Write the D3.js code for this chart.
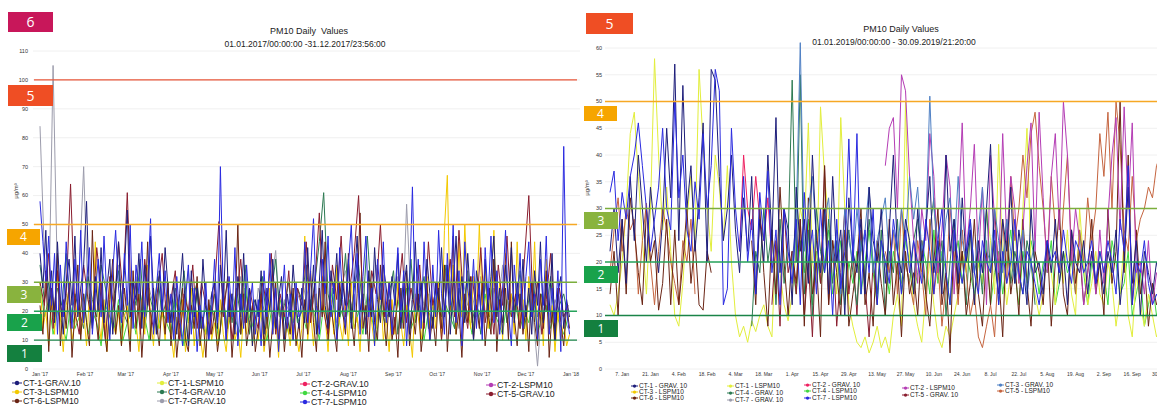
<!DOCTYPE html>
<html>
<head>
<meta charset="utf-8">
<script src="https://cdn.jsdelivr.net/npm/d3@7"></script>
<style>
body { margin: 0; background: #fff; }
svg { display: block; font-family: "Liberation Sans", Arial, sans-serif; }
</style>
</head>
<body>
<svg id="chart" width="1157" height="407"></svg>
<script>
// PM10 daily values, two stations groups, 2017 and 2019
const gap = n => Array(n).fill(null);

// ---- 2017 panel (values every 2 days from 1 Jan 2017) ----
const l_7L = [
  58,44,30,46,22,40,12,36,18,44,26,14,38,20,48,16,
  30,42,12,26,38,18,46,24,10,34,48,28,16,40,
  22,50,14,36,26,44,18,30,52,12,28,40,20,34,16,
  26,10,32,18,8,24,36,12,28,6,22,14,30,10,20,
  38,16,70,24,10,32,18,42,8,26,14,36,20,30,12,
  24,8,34,18,40,12,28,6,22,36,14,26,10,30,18,
  20,44,16,34,52,22,12,38,26,46,18,30,10,42,24,
  14,36,50,20,40,12,32,46,18,28,8,38,24,44,16,
  30,12,26,42,18,34,8,28,63,20,38,14,44,22,10,
  36,18,48,26,12,40,22,50,16,34,8,44,28,20,38,14,
  30,10,42,24,46,16,34,12,28,48,20,8,36,22,40,
  14,32,44,18,26,10,38,22,46,12,28,16,34,6,77,20,12
];
const l_1G = [
  40,28,48,20,34,16,44,24,12,30,38,22,46,18,28,36,
  58,24,14,32,20,42,16,28,38,12,26,44,20,34,
  55,18,30,24,40,14,36,22,46,26,12,34,20,42,28,
  16,30,12,26,40,20,8,34,18,28,14,38,22,10,26,
  30,14,36,22,48,18,26,12,32,20,40,16,28,8,24,
  18,34,12,28,20,38,14,24,32,10,26,18,36,22,14,
  28,16,42,20,36,12,30,48,22,14,34,26,40,18,30,
  22,38,14,30,46,20,26,12,34,18,42,24,16,36,28,
  18,32,22,40,14,28,36,12,24,44,20,30,16,38,26,
  14,30,24,42,18,36,12,28,46,20,32,16,40,24,10,34,
  26,14,38,20,32,46,18,28,12,36,24,42,16,30,20,
  38,18,28,12,34,22,44,16,30,20,40,10,26,32,14,24,18
];
const l_6L = [
  22,12,34,6,28,18,40,8,24,14,30,4,20,36,10,26,
  16,8,48,20,10,30,14,6,24,38,12,22,8,28,
  18,6,34,14,26,4,20,44,10,28,16,8,24,12,30,
  8,20,4,16,28,10,6,22,14,32,8,18,4,24,12,
  20,6,14,30,10,24,4,18,50,12,26,8,16,22,6,
  14,26,8,20,4,16,30,10,22,6,18,12,28,8,16,
  4,24,12,34,16,6,28,18,44,10,22,14,6,30,20,
  12,40,18,8,26,54,14,22,6,30,16,10,36,20,8,
  24,10,18,4,28,14,34,8,20,12,26,6,16,30,10,
  18,8,28,14,36,6,22,46,12,20,4,26,16,32,10,22,
  14,30,8,20,12,38,6,24,16,28,10,44,18,8,26,
  12,22,6,30,16,8,26,14,34,4,20,10,28,16,8,22,14
];
const l_3L = [
  30,14,20,8,26,12,34,18,6,22,28,10,16,24,12,20,
  8,26,14,44,18,10,24,6,30,16,12,20,8,18,
  22,10,30,16,6,24,12,36,18,8,26,14,20,10,28,
  12,4,18,10,24,6,16,28,8,20,12,4,14,22,10,
  16,8,24,12,6,18,26,10,14,4,20,12,28,8,16,
  10,22,6,14,28,12,18,4,24,10,16,8,20,12,6,
  14,46,10,20,8,26,14,32,18,6,24,12,36,16,10,
  22,8,30,14,18,6,26,12,34,16,8,20,28,10,18,
  6,24,12,30,16,8,22,14,4,26,18,10,20,32,12,
  24,14,30,10,48,67,20,36,12,44,18,50,26,14,32,20,
  50,22,36,14,28,48,18,30,10,40,20,26,12,44,16,
  24,10,32,18,44,12,26,8,38,14,22,6,20,10,16,8,12
];
// gravimetric / partial series, every 3 days
const l_5G = [
  30,22,40,14,34,18,26,64,20,12, 36,24,16,42,28,10,32,20,44,26,
  61,18,30,12,38,22,14,28,40,16, 24,34,10,26,20,36,14,30,22,12,
  28,51,18,32,10,24,38,16,28,20, 14,30,22,40,12,26,18,34,10,28,
  22,44,16,30,54,20,12,36,24,46, 18,28,40,60,22,14,34,26,50,18,
  30,12,24,40,16,28,20,36,14,44, 22,30,10,26,38,18,48,24,14,32,
  20,42,16,28,12,36,22,46,18,26, 14,38,60,20,30,12,24,40,16,28,
  18,22
];
const l_4G = [
  36,24,30,18,28,22,40,16,26,20, 14,32,24,18,36,28,12,26,34,20,
  16,30,22,38,14,26,20,32,18,24, 12,28,20,34,16,24,30,14,22,18,
  26,10,22,30,16,28,18,36,12,24, 20,32,14,26,38,18,22,30,16,28,
  24,36,20,30,44,61,26,18,34,22, 40,16,28,36,20,46,24,14,30,18,
  26,34,12,28,20,38,16,24,32,14, 22,30,18,36,26,14,28,20,34,16,
  24,12,30,18,38,22,28,16,26,20, 34,14,24,30,18,26,20,32,14,22,
  26,18
];
const l_7G = [
  84,40,20,105,30,18,26,14,22,34, 70,24,16,30,20,12,28,22,36,18,
  26,14,32,20,16,28,22,12,30,24, 18,26,14,22,34,16,28,20,12,24,
  30,18,22,14,26,20,32,16,24,12, 28,22,18,30,41,16,24,20,14,26,
  22,30,18,26,14,32,20,24,16,28, 34,20,26,14,30,18,24,36,22,16,
  28,20,32,14,57,24,18,30,22,26, 16,28,20,34,18,24,14,30,22,26,
  18,32,20,14,28,22,36,16,24,20, 30,14,26,18,1,22,28,16,24,20,
  18,14
];
const l_4L = [
  30,18,24,12,20,16,10,22,14,18, 26,12,20,16,8,22,18,14,24,10,
  16,20,12,26,18,10,22,14,20,16, 12,24,18,8,20,14,26,16,12,22,
  18,10,24,14,20,16,12,28,18,14, 22,16,10,20,14,24,18,12,26,16,
  20,14,24,18,10,22,16,28,12,20, 16,24,14,20,12,26,18,10,22,16,
  20,12,24,16,28,14,18,22,10,20, 16,26,12,22,18,14,24,16,20,12,
  22,18,26,14,20,16,12,24,18,22, 14,20,16,26,12,18,22,14,20,16,
  12,18
];

// ---- 2019 panel (values every 2 days from 1 Jan 2019) ----
const r_7L = [
  33,37,24,33,28,36,40,46,38,30,22,28,34,45,30,26,
  50,32,40,26,22,35,28,44,30,38,56,52,12,15,
  45,30,22,36,20,28,14,33,24,37,18,26,12,30,22,
  16,28,12,33,20,26,14,30,18,24,10,28,15,22,43,
  20,44,14,26,18,30,12,24,20,16,28,22,14,26,18,24,
  20,16,28,22,14,24,30,18,12,26,20,16,22,28,18,
  14,24,20,18,26,12,22,16,20,28,18,14,22,20,16,
  12,18,24,20,22,18,26,20,16,24,22,18,20,24,16,22,
  18,24,20,14,28,22,38,12,20,18,24,16,12,14,12
];
const r_1G = [
  22,30,18,28,16,36,24,40,30,20,34,26,18,28,45,32,
  57,24,53,30,38,22,32,46,20,56,54,36,24,30,
  40,26,18,32,22,36,14,28,20,40,24,47,18,30,26,
  12,34,22,28,16,40,24,18,30,14,36,20,26,10,32,
  22,18,28,14,34,24,20,30,16,26,40,22,18,28,24,14,
  30,20,26,36,18,24,14,40,22,28,16,32,20,26,12,
  24,18,30,42,20,14,28,22,34,16,26,20,12,30,18,
  20,14,24,18,28,16,22,12,26,20,18,24,14,22,16,20,
  14,22,18,26,12,20,34,16,24,10,22,18,14,20,16
];
const r_1L = [
  12,10,14,20,30,44,48,36,24,14,30,58,40,26,34,22,
  10,8,16,28,36,24,56,42,30,22,40,34,24,38,
  20,10,6,8,5,9,7,10,12,8,6,24,18,12,9,
  14,22,30,26,46,20,16,49,36,28,22,14,47,30,12,
  8,5,4,6,3,5,8,4,6,3,10,14,8,50,20,12,
  8,5,14,20,12,6,4,8,6,10,14,22,18,26,12,
  20,16,30,24,14,42,20,12,18,26,16,30,45,20,14,
  10,14,24,18,12,20,16,26,14,10,30,20,12,16,22,14,
  12,20,16,8,14,24,10,6,18,12,8,14,10,6,8
];
const r_6L = [
  14,22,10,28,14,32,26,18,12,30,20,24,11,16,28,12,
  26,12,20,30,16,24,12,11,22,18, ...gap(4),
  ...gap(5), 24,12,30,18,8,26,14,34,20,10,
  22,16,28,8,32,14,20,6,38,12,24,18,10,26,8,
  14,20,30,12,18,8,24,16,10,28,12,20,6,22,14,18,
  10,24,14,8,20,30,12,18,3,26,14,22,10,16,28,
  14,8,22,12,30,18,6,26,14,20,10,28,16,8,22,
  18,12,24,8,20,30,14,10,26,16,22,12,18,28,14,20,
  10,30,16,22,50,18,40,12,26,14,20,8,16,12,14
];
const r_5L = [
  18,26,32,22,30,26,28,14,24,31,20,12,22,30,26,20,
  16,12,24,20,28,14, ...gap(8),
  ...gap(15),
  ...gap(15),
  ...gap(8), 22,18,26,14,30,20,16,12,
  24,18,10,28,14,20,8,16,30,22,12,26,18,10,14,
  6,4,8,12,6,20,28,16,36,24,30,40,32,44,48,
  38,30,20,36,26,18,30,40,22,14,26,20,32,24,30,44,
  36,48,30,50,42,26,22,36,24,28,30,34,32,38,40
];
const r_2L = [
  ...gap(60),
  ...gap(8), 38,45,47,30,55,52,36,24,
  16,30,24,44,36,18,26,40,34,14,28,46,22,30,42,
  20,34,12,40,28,18,44,24,36,30,16,26,38,46,22,
  48,32,18,36,44,26,50,40,20,30,24,12,18,22,14,26,
  16,28,40,47,26,49,30,46,18,20,14,24,12,18,16
];
const r_3G = [
  ...gap(45),
  20,28,61,22,30,36,24,18,28,32,20,26,14,30,24,
  20,30,22,26,34,18,24,28,32,20,26,22,30,24,36,28,
  34,22,26,51,30,24,20,28,32,22,36,24,20,28,18,
  26,34,22,20,30,24,18,28,22,16,20,26,14,20,24
];
const r_4G = [
  ...gap(35), 8,22,18,30,20,26,12,28,16,24,
  54,20,55,14,26,10,30,22,18,28,16,24,12,20,26,
  18,12,24,16,28,20,14,26,10,22,18,28,14,20,16,24,
  28,20,14,26,32,18,24,10,20,28,16,22,12,26,18,
  22,14,30,18,24,12,20,28,16,22,18,14,24,20,12
];
const r_4L = [
  ...gap(45),
  20,14,24,18,28,12,22,16,20,26,14,18,24,12,20,
  16,22,14,20,26,18,12,24,20,14,22,18,16,24,20,14,
  18,24,20,14,26,16,22,18,12,20,24,16,22,18,14,
  20,16,24,12,18,22,14,20,26,18,12,22,16,24,20,
  14,20,18,24,12,16,22,18,20,14,26,18,12,20,16,22,
  18,12,24,20,14,16,22,10,14,18,8,12,16,10,12
];
const r_2G = [...gap(32), 22,40,30,26,36,28,24,32,20];
const r_5G = [
  ...gap(40), 12,24,8,30,18,
  22,14,28,10,20,6,26,16,38,12,24,8,18,30,14,
  22,10,26,16,6,20,12
];
const r_3L = [];
const r_7G = [];
const l_1L = [], l_2G = [], l_2L = [];

const colors = {
  "1G": "#1d1d7a", "1L": "#e2ee3c", "2G": "#ee2060", "2L": "#b43cb4",
  "3G": "#4f80c4", "3L": "#f3c900", "4G": "#2d7a52", "4L": "#40d840",
  "5G": "#8a1d2e", "5L": "#c5643f", "6L": "#6a2414", "7G": "#9c9cac", "7L": "#2a2ae0"
};
const leftNames = {
  "1G":"CT-1-GRAV.10","1L":"CT-1-LSPM10","2G":"CT-2-GRAV.10","2L":"CT-2-LSPM10",
  "3L":"CT-3-LSPM10","4G":"CT-4-GRAV.10","4L":"CT-4-LSPM10","5G":"CT-5-GRAV.10",
  "6L":"CT-6-LSPM10","7G":"CT-7-GRAV.10","7L":"CT-7-LSPM10"
};
const rightNames = {
  "1G":"CT-1 - GRAV. 10","1L":"CT-1 - LSPM10","2G":"CT-2 - GRAV. 10","2L":"CT-2 - LSPM10",
  "3G":"CT-3 - GRAV. 10","3L":"CT-3 - LSPM10","4G":"CT-4 - GRAV. 10","4L":"CT-4 - LSPM10",
  "5G":"CT-5 - GRAV. 10","5L":"CT-5 - LSPM10","6L":"CT-6 - LSPM10","7G":"CT-7 - GRAV. 10","7L":"CT-7 - LSPM10"
};

// draw order (last on top) with sampling step in days
const leftSeries = [
  {id:"7G", step:3, values:l_7G}, {id:"4L", step:3, values:l_4L},
  {id:"4G", step:3, values:l_4G}, {id:"3L", step:2, values:l_3L},
  {id:"6L", step:2, values:l_6L}, {id:"5G", step:3, values:l_5G},
  {id:"1L", step:2, values:l_1L}, {id:"2G", step:2, values:l_2G}, {id:"2L", step:2, values:l_2L},
  {id:"1G", step:2, values:l_1G}, {id:"7L", step:2, values:l_7L}
];
const rightSeries = [
  {id:"7G", values:r_7G}, {id:"3L", values:r_3L},
  {id:"4L", values:r_4L}, {id:"1L", values:r_1L},
  {id:"5G", values:r_5G}, {id:"2G", values:r_2G},
  {id:"4G", values:r_4G}, {id:"5L", values:r_5L},
  {id:"6L", values:r_6L}, {id:"2L", values:r_2L},
  {id:"3G", values:r_3G}, {id:"1G", values:r_1G}, {id:"7L", values:r_7L}
];

const limitsL = [100, 50, 30, 20, 10];
const limitsR = [50, 30, 20, 10];
const limitColor = {100:"#e8573a", 50:"#f6a824", 30:"#7bae3c", 20:"#26a35b", 10:"#1b8448"};

const svg = d3.select("#chart");
svg.append("rect").attr("width", 1157).attr("height", 407).attr("fill", "#fff");

// ---------- scales ----------
const t0L = new Date(2017, 0, 1), t1L = new Date(2018, 0, 1);
const xL = d3.scaleTime().domain([t0L, t1L]).range([40, 571]);
const yL = d3.scaleLinear().domain([0, 110]).range([369, 51]);
const t0R = new Date(2019, 0, 1), t1R = new Date(2019, 9, 1);
const xR = d3.scaleTime().domain([t0R, t1R]).range([610, 1162.6]);
const yR = d3.scaleLinear().domain([0, 60]).range([369, 48]);

function drawPanel(o) {
  const g = svg.append("g");
  // grid
  g.selectAll(".grid").data(o.yTicks).enter().append("line")
    .attr("x1", o.gx0).attr("x2", o.gx1)
    .attr("y1", d => o.y(d)).attr("y2", d => o.y(d))
    .attr("stroke", "#ececec").attr("stroke-width", 0.8);
  g.selectAll(".ylab").data(o.yTicks).enter().append("text")
    .attr("x", o.ylabX).attr("y", d => o.y(d)).attr("dy", "0.35em")
    .attr("text-anchor", "end").attr("font-size", 5.5).attr("fill", "#333")
    .text(d => d);
  g.selectAll(".xlab").data(o.xTicks).enter().append("text")
    .attr("x", d => o.x(d)).attr("y", 376)
    .attr("text-anchor", "middle").attr("font-size", 5).attr("fill", "#333")
    .text(o.xFmt);
  g.append("text")
    .attr("transform", `translate(${o.unitX},${o.unitY}) rotate(-90)`)
    .attr("text-anchor", "middle").attr("font-size", 6).attr("fill", "#333")
    .text("µg/m³");
  // titles
  g.append("text").attr("x", o.titleX).attr("y", o.titleY)
    .attr("text-anchor", "middle").attr("font-size", 9).attr("fill", "#222")
    .attr("xml:space", "preserve").text(o.title);
  g.append("text").attr("x", o.subX).attr("y", o.titleY + 13)
    .attr("text-anchor", "middle").attr("font-size", 8.5).attr("fill", "#222")
    .text(o.subtitle);
  // series
  const line = d3.line()
    .defined(d => d.v != null)
    .x(d => o.x(d.t)).y(d => o.y(d.v));
  o.series.forEach(s => {
    const pts = s.values.map((v, i) => ({t: d3.timeDay.offset(o.t0, i * (s.step || 2)), v}));
    g.append("path").datum(pts)
      .attr("d", line).attr("fill", "none")
      .attr("stroke", colors[s.id]).attr("stroke-width", 1)
      .attr("stroke-linejoin", "round");
  });
  // limit lines
  g.selectAll(".lim").data(o.limits).enter().append("line")
    .attr("x1", o.lx0).attr("x2", o.lx1)
    .attr("y1", d => o.y(d)).attr("y2", d => o.y(d))
    .attr("stroke", d => limitColor[d]).attr("stroke-width", 1.4);
  return g;
}

drawPanel({
  x: xL, y: yL, t0: t0L, gx0: 33, gx1: 580, lx0: 34, lx1: 577, ylabX: 28,
  yTicks: d3.range(0, 111, 10), xTicks: d3.timeMonth.range(t0L, d3.timeDay.offset(t1L, 1)),
  xFmt: d3.timeFormat("%b '%y"), unitX: 18, unitY: 191,
  title: "PM10 Daily  Values", subtitle: "01.01.2017/00:00:00 -31.12.2017/23:56:00",
  titleX: 309, subX: 305, titleY: 34, series: leftSeries, limits: limitsL
});
drawPanel({
  x: xR, y: yR, t0: t0R, gx0: 605, gx1: 1157, lx0: 605, lx1: 1157, ylabX: 602,
  yTicks: d3.range(0, 61, 5), xTicks: d3.range(20).map(i => d3.timeDay.offset(new Date(2019, 0, 7), 14 * i)),
  xFmt: d3.timeFormat("%-d. %b"), unitX: 589, unitY: 188,
  title: "PM10 Daily Values", subtitle: "01.01.2019/00:00:00 - 30.09.2019/21:20:00",
  titleX: 901, subX: 894, titleY: 32, series: rightSeries, limits: limitsR
});

// ---------- index badges ----------
const badgeColor = {6:"#c8175a", 5:"#ef4e24", 4:"#f6a500", 3:"#89b33e", 2:"#19a24b", 1:"#14803f"};
const badges = [
  {n:6, x:8, y:12, w:45, h:20}, {n:5, x:8, y:85, w:45, h:21},
  {n:4, x:7, y:229, w:33, h:16}, {n:3, x:7, y:286, w:34, h:17},
  {n:2, x:7, y:314, w:35, h:17}, {n:1, x:7, y:345, w:35, h:17},
  {n:5, x:586, y:13, w:47, h:21}, {n:4, x:584, y:106, w:33, h:15},
  {n:3, x:584, y:212, w:34, h:17}, {n:2, x:584, y:266, w:34, h:17},
  {n:1, x:584, y:320, w:34, h:17}
];
const bg = svg.append("g").selectAll("g").data(badges).enter().append("g");
bg.append("rect").attr("x", d => d.x).attr("y", d => d.y)
  .attr("width", d => d.w).attr("height", d => d.h).attr("fill", d => badgeColor[d.n]);
bg.append("text").attr("x", d => d.x + d.w / 2).attr("y", d => d.y + d.h / 2)
  .attr("dy", "0.36em").attr("text-anchor", "middle")
  .attr("font-family", "'Open Sans', sans-serif").attr("font-size", d => d.h > 18 ? 14 : 12)
  .attr("fill", "#fff").text(d => d.n);

// ---------- legends ----------
function legend(cols, names, xs, ys, fs, mw) {
  const items = [];
  cols.forEach((col, ci) => col.forEach((id, ri) => items.push({id, x: xs[ci], y: ys[ci][ri]})));
  const g = svg.append("g").selectAll("g").data(items).enter().append("g")
    .attr("transform", d => `translate(${d.x},${d.y})`);
  g.append("line").attr("x1", 0).attr("x2", mw).attr("stroke", d => colors[d.id]).attr("stroke-width", 1);
  g.append("circle").attr("cx", mw / 2).attr("r", fs * 0.25).attr("fill", d => colors[d.id]);
  g.append("text").attr("x", mw + 1).attr("dy", "0.35em").attr("font-size", fs).attr("fill", "#222")
    .text(d => names[d.id]);
}
legend([["1G","3L","6L"],["1L","4G","7G"],["2G","4L","7L"],["2L","5G"]], leftNames,
  [12, 157, 300, 486],
  [[383,392,401],[383,392,401],[384,393,402],[385,394]], 8.8, 10);
legend([["1G","3L","6L"],["1L","4G","7G"],["2G","4L","7L"],["2L","5G"],["3G","5L"]], rightNames,
  [631, 727, 804, 902, 997],
  [[386,392,398],[386,393,400],[385,391,398],[388,395],[385,391]], 6.5, 7);
</script>
</body>
</html>
